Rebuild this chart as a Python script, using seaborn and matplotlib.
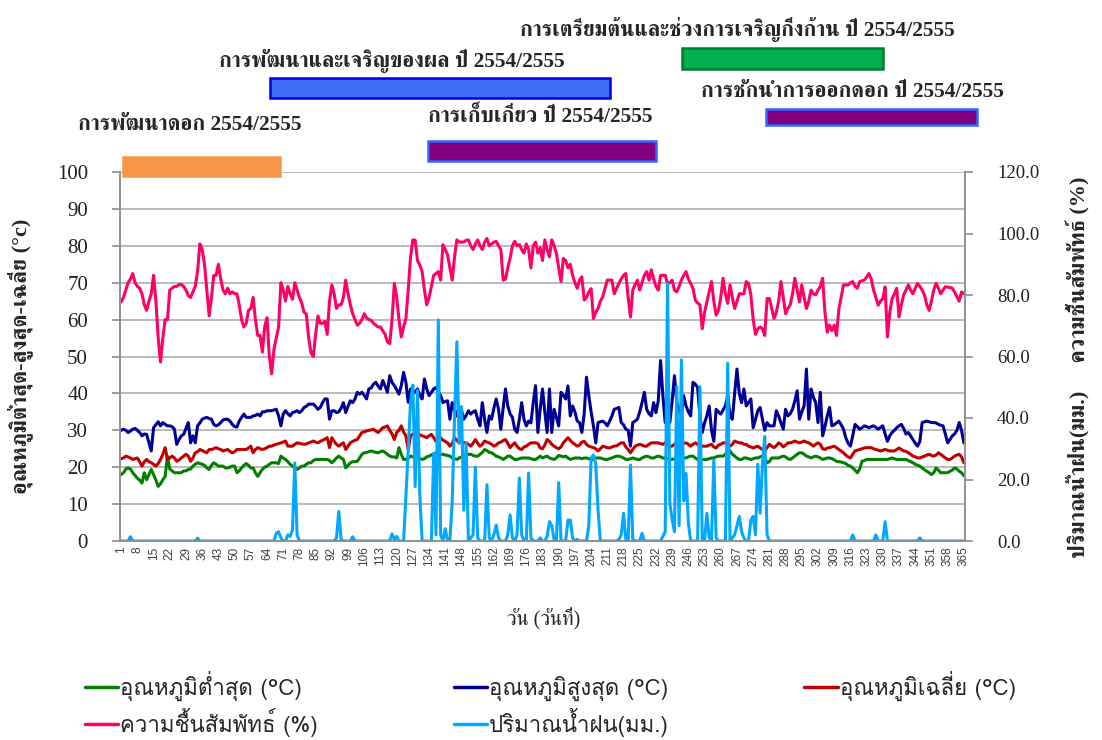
import matplotlib
matplotlib.use("Agg")
import numpy as np
import pandas as pd
import seaborn as sns
import matplotlib.pyplot as plt
from matplotlib import font_manager
from matplotlib.ft2font import FT2Font
from matplotlib.patches import Rectangle
from matplotlib.lines import Line2D


# daily values, one row = one week (day 1..365)
temp_min = [
    18, 18.5, 19.5, 19.8, 19.5, 18.5, 17.8,
    17, 16.5, 15.7, 18.5, 16.6, 18, 19.4,
    18, 16.5, 14.8, 15.5, 16.6, 17.5, 23,
    19.5, 19, 18.5, 18.5, 18.5, 18.5, 19,
    19, 19.4, 19.5, 20.3, 20.8, 21.2, 21,
    20.8, 20.5, 19.8, 19.4, 20.5, 21.2, 20.8,
    20.3, 20.3, 20.3, 19.8, 19.8, 20, 20.3,
    20.3, 18.5, 19, 19.8, 20.5, 21, 20.5,
    19.8, 19.8, 18.5, 17.5, 18.5, 19.4, 20,
    20.3, 20.8, 21.2, 21.2, 21.2, 21, 23,
    22.5, 22.1, 21.5, 20.8, 20.3, 19.8, 19.4,
    19.8, 20.3, 20.3, 20.8, 21.2, 21.2, 21.8,
    22.1, 22.1, 22.1, 22.1, 22.1, 22.1, 21.8,
    21.2, 21.8, 22.5, 23, 22.5, 22.1, 19.8,
    20.5, 21.2, 21.5, 21.5, 21.6, 22.5, 23.5,
    23.9, 24, 24.2, 24.4, 24.2, 24, 23.9,
    24.2, 24.4, 24, 23.5, 23, 22.8, 22.8,
    22.5, 25.3, 23.5, 22.1, 22.1, 22.5, 23,
    22.8, 22.5, 22.5, 22.3, 22.1, 22.3, 22.8,
    23, 23.3, 23.6, 23.9, 23.7, 23.5, 23.5,
    23.3, 23.2, 23, 22.5, 22.3, 22.1, 22.5,
    22.8, 23, 23.2, 23.5, 23.5, 23.2, 23,
    23, 23.5, 24, 24.8, 24.5, 24, 23.9,
    23.5, 23, 22.8, 22.5, 22.1, 22.5, 23,
    23, 22.5, 22.1, 22.1, 22.3, 22.5, 22.5,
    22.5, 22.5, 22.3, 22.1, 22.1, 22.5, 23,
    22.5, 22.8, 23, 22.5, 22.3, 22.1, 22.5,
    23.2, 23, 22.8, 23, 22.5, 22.1, 22.3,
    22.5, 22.5, 22.5, 22.3, 22.5, 22.5, 22.3,
    22.1, 22.1, 22.5, 22.5, 22.5, 22.3, 22.1,
    22.1, 22.3, 22.5, 22.8, 23, 23, 22.8,
    22.5, 22.1, 22.1, 22.3, 22.5, 22.3, 22.1,
    22.1, 22.5, 22.8, 23, 22.8, 22.5, 22.5,
    22.8, 23, 22.8, 22.5, 22.5, 22.3, 22.1,
    22.1, 22.3, 22.5, 22.5, 22.5, 22.5, 22.5,
    22.8, 23, 23, 22.5, 22.1, 22.1, 22.1,
    22.1, 22.1, 22.3, 22.5, 22.5, 22.8, 23,
    23, 23, 23.5, 24.2, 24.4, 23.5, 23,
    22.5, 22.1, 22.1, 22.5, 22.5, 22.3, 22.1,
    22.3, 22.5, 22.5, 22.8, 23, 22.5, 21.2,
    21.5, 22.5, 22.5, 22.5, 22.5, 22.8, 23,
    22.8, 22.3, 22.1, 22.5, 23, 23.5, 23.9,
    23.9, 23.5, 23, 22.8, 22.5, 22.8, 23,
    22.8, 22.5, 22.1, 22.3, 22.5, 22.5, 22.3,
    22, 21.6, 21.5, 21.4, 21.2, 21, 20.5,
    20.3, 19.8, 19.2, 18.5, 19.5, 21.6, 21.8,
    22.1, 22.1, 22.1, 22.1, 22.1, 22.1, 22.1,
    22.1, 22.1, 22.1, 22.3, 22.5, 22.3, 22.1,
    22.1, 22.1, 22.1, 22.1, 21.8, 21.5, 21.2,
    20.8, 20.5, 20.3, 19.8, 19.3, 18.9, 18.5,
    18, 18.5, 19.8, 19.2, 18.5, 18.5, 18.5,
    18.5, 18.9, 19.2, 19.8, 19.5, 18.9, 18.5,
    17.7,
]

temp_max = [
    30, 30.3, 30, 29.4, 29.8, 30.3, 30.5,
    30, 29.4, 28.5, 29, 28.9, 26.6, 24.4,
    30.7, 31.5, 32.3, 31.2, 32.1, 31.6, 31.2,
    31.2, 31, 30.3, 26.2, 27.5, 28.5, 28.9,
    30.5, 32.1, 26.6, 28.5, 26.6, 31.2, 32,
    33, 33.3, 33.5, 33.2, 33, 31.6, 31.2,
    31.5, 32.1, 32.8, 33, 33, 32.5, 31.6,
    31, 30.9, 32.5, 33.5, 34.4, 33.5, 33.5,
    33.5, 33.9, 34, 34.4, 33.9, 35, 35,
    35.3, 35.3, 35.3, 35.5, 35.7, 33.9, 31.2,
    34.4, 35.3, 34.5, 33.9, 34.8, 35, 35.3,
    34.8, 35.3, 36.2, 36.5, 37.1, 37.1, 37.1,
    36.5, 35.7, 36.2, 37.5, 38.5, 38.5, 33,
    35.3, 35.3, 34.8, 35, 36, 37.5, 34.8,
    36.5, 38, 37.5, 38.5, 40.3, 39.8, 40.3,
    39.5, 38.5, 41.2, 41.5, 42.5, 43, 42,
    41.2, 43.5, 42, 40.3, 44.8, 43, 42.1,
    41, 39.8, 42.1, 45.7, 43, 37.6, 41.2,
    40.8, 40.3, 41.2, 39.5, 38.5, 43.9, 41.2,
    39.4, 40.3, 41.2, 41.6, 40.5, 39.4, 37.5,
    37.8, 38, 33, 37.5, 35.5, 33.9, 36.2,
    35.5, 33, 34, 35.3, 34.4, 35, 35.3,
    33, 31.2, 37.5, 33, 29.4, 33.9, 33,
    36, 38.5, 35.7, 30.3, 36, 41.2, 36.6,
    34.5, 33.5, 30.3, 29.4, 33, 37.5, 33,
    31.2, 32.5, 32, 37.5, 42.1, 29.4, 35.7,
    41.2, 35, 29.4, 41.2, 29.4, 35.7, 33.5,
    31.2, 40.3, 39.5, 38.5, 42, 33.9, 36.6,
    35, 32.5, 32.1, 29.4, 34.4, 44.4, 39.4,
    35, 31.2, 26.6, 32.1, 32.3, 32.5, 32,
    31.2, 32.5, 33.9, 35.7, 35.9, 36.2, 32.1,
    31.5, 30.3, 30, 25.7, 32.1, 32.5, 33,
    35, 37.5, 40.3, 35.7, 34.5, 33.9, 37.5,
    34.8, 38, 48.9, 39.4, 32.1, 37.5, 32.1,
    38, 44.8, 37.5, 35.5, 33.9, 39.4, 36.6,
    35, 33.9, 43, 42.5, 41.6, 33.9, 29.4,
    32, 33.9, 36.6, 30, 27, 35.7, 35,
    34.4, 35.5, 36.6, 39.4, 33.9, 33, 40,
    46.6, 40, 37.5, 41.2, 36.6, 37.5, 38.5,
    30.7, 33, 35.3, 36.2, 33, 30, 32.1,
    31.2, 31.2, 31.2, 35.3, 33.9, 32, 30.3,
    35.7, 33.9, 34.5, 35.7, 38, 40.7, 33,
    35, 36.6, 46.6, 33, 41.2, 39, 37.5,
    32.1, 40.3, 28.5, 31, 33.9, 36.2, 31.2,
    31.5, 32, 32.5, 31.5, 30.3, 28, 26.5,
    25.7, 28.5, 31.6, 31, 30.3, 30.7, 31.2,
    31, 30.7, 31, 31.2, 30.8, 30.3, 30.8,
    31.2, 29, 27, 28.5, 29.4, 30, 30.7,
    31.2, 31.6, 30.5, 29, 29.4, 28.5, 27.5,
    26.5, 25.7, 27, 32.1, 32.3, 32.5, 32.3,
    32.1, 32.1, 32, 31.6, 31.4, 31.2, 29,
    26.6, 27.5, 28.5, 29, 30, 32.1, 30,
    26.6,
]

temp_avg = [
    22.3, 22.5, 23, 22.8, 22.5, 22.1, 22.3,
    22.5, 21.5, 20.3, 21.5, 22.1, 21.5, 21.2,
    20.8, 20.3, 21, 22.1, 23.5, 25.3, 22.1,
    22.5, 23, 22.5, 21.6, 22, 22.5, 23,
    23.5, 23, 21.6, 22.5, 23.9, 24.2, 24.8,
    24.5, 24.2, 23.9, 24.8, 24.8, 25, 25.3,
    25, 24.8, 24.4, 24.6, 24.8, 24.3, 23.9,
    24.2, 24.8, 24.8, 24.8, 24.8, 24.8, 25.2,
    25.7, 23.9, 24.8, 25.3, 25, 24.8, 25,
    25.3, 25.7, 25.7, 26, 26.2, 26.4, 26.6,
    26.8, 27.1, 25.7, 25.7, 25.7, 26.2, 26.6,
    26.5, 26.3, 26.2, 26.3, 26.6, 26.8, 27.1,
    26.8, 26.6, 27, 27.3, 27.6, 28, 25.3,
    28, 27, 26.2, 25.7, 26.2, 26.6, 24.8,
    25.7, 26.6, 27, 27.3, 27.5, 28.5, 29.4,
    29.6, 29.8, 30, 30.1, 30.3, 29.8, 29.4,
    30, 30.7, 30.9, 31.2, 30, 29, 27.5,
    29.4, 30, 31.2, 29.5, 28.5, 24.8, 28.5,
    29, 29.4, 29.2, 28.8, 28.5, 28.3, 28,
    28.5, 28.9, 28, 27, 27.5, 28, 27.3,
    27, 26.6, 25.7, 26.5, 28, 27.3, 26.6,
    27, 26.6, 26.6, 26.2, 25.7, 26.5, 27.5,
    26.5, 25.7, 26.2, 27.1, 26.8, 26.6, 26.2,
    25.7, 26, 26.6, 26.8, 27.2, 27.5, 26.5,
    25.3, 26, 26.6, 25.7, 25, 24.8, 25.5,
    25.7, 26.2, 26.6, 26.6, 26.6, 26.4, 25.2,
    25, 26, 27.5, 27, 26.2, 25.7, 25.3,
    25, 25.5, 26.6, 27.3, 28, 27.3, 26.6,
    26.2, 25.7, 26, 26.8, 27, 26.2, 25.7,
    25.5, 25.3, 25, 24.4, 25, 25.7, 25.5,
    25.3, 25.2, 25.5, 25.7, 25.8, 26.2, 26.6,
    26.6, 25.5, 24.8, 23.9, 24.8, 25.7, 26,
    26.2, 26, 25.7, 25.7, 26.2, 26.6, 26.6,
    26.6, 26.6, 26.4, 26.2, 26.6, 26.2, 25.7,
    25.7, 26.2, 26.6, 26.4, 26.2, 26.5, 26.6,
    26.2, 25.7, 26.2, 26.6, 26.2, 25.7, 25.7,
    25.7, 25.7, 26, 26.2, 25.5, 25.2, 26,
    26.2, 26.6, 26.6, 26.2, 25.7, 26.2, 27.1,
    26.8, 26.6, 26.6, 26.2, 26.2, 25.7, 25.5,
    25.2, 25.5, 25.7, 25.2, 24.8, 24.4, 25.3,
    26.2, 25.7, 25.3, 25.8, 26.6, 26.2, 25.5,
    26, 26.6, 26.6, 26.8, 27.1, 26.8, 26.6,
    26.8, 27.1, 26.8, 26.6, 26.2, 25.7, 26.2,
    26.6, 26.2, 25, 24.8, 25.2, 25.3, 25.5,
    25.7, 25.3, 24.8, 24.4, 23.9, 23.3, 22.8,
    22.5, 23.5, 24.4, 24.6, 24.8, 25, 25.2,
    25.3, 25.3, 25.3, 25, 24.8, 24.6, 24.4,
    24.6, 24.8, 24.6, 24.4, 24.4, 24.4, 24.8,
    25.2, 24.8, 24.4, 24.3, 23.9, 23.5, 23,
    22.8, 22.5, 22.5, 22.8, 23, 23.3, 23.5,
    23.2, 23, 23.3, 23.9, 23.5, 23, 22.5,
    22.1, 22.1, 22.5, 23, 23.3, 23.5, 22.8,
    21.2,
]

humidity = [
    64.8, 66, 68, 70, 71, 72.5, 70,
    69, 68.5, 67, 64, 62.5, 65, 67,
    72, 65, 55, 48.5, 55, 60, 60,
    68, 68.5, 69, 69, 69.5, 69.5, 69,
    68, 66.5, 66, 67.5, 69, 73, 80.5,
    79, 75, 68, 61, 66, 72, 72,
    75, 71, 68, 67, 68.5, 67, 67.5,
    67, 67, 64, 60, 58, 59, 62.5,
    63, 66, 60, 55.7, 55.7, 51.2, 58,
    60.5, 50, 45.3, 52, 55, 58, 70,
    68, 65, 69, 67, 65.5, 70, 68,
    66, 64.5, 62, 61.5, 55, 51, 50,
    56, 61, 59, 59, 59.5, 56, 65,
    69.4, 67, 63, 64, 64, 66, 70.7,
    67, 64, 61.6, 60, 58.5, 59, 60,
    61.6, 60.5, 60, 59.8, 59, 58.5, 58,
    58, 57, 56, 54, 53.5, 60, 69.8,
    66.2, 60, 55.3, 58, 60.3, 68, 77,
    81.6, 81.5, 76, 74.8, 73, 68, 64,
    66, 69, 72, 72.5, 73, 70.7, 80.3,
    79, 77.5, 74, 70.7, 77, 81.6, 81,
    81, 81, 81.5, 81.6, 80, 79, 80.5,
    81.6, 80, 79, 81, 82, 80, 80.5,
    81, 81.2, 80, 79, 70.7, 71, 74,
    76.6, 80, 81.2, 80, 80.3, 79, 78,
    80.5, 79, 74, 80, 81, 78, 79.5,
    76, 81.6, 79, 77, 81.6, 80, 78,
    74, 70.3, 76.6, 76, 74, 75, 72,
    70, 68.5, 70.7, 71.6, 65.3, 66, 67.5,
    68.4, 60.3, 62, 63, 65, 66.2, 68.5,
    70.7, 70.7, 70.7, 67, 68.5, 69.8, 71,
    72, 72.5, 66, 60.7, 68, 69.5, 70.7,
    68, 70, 72, 73, 70.7, 73.5, 71,
    69, 68, 72, 72, 72, 69.8, 70,
    70.7, 68, 67.5, 69, 70.7, 72, 73,
    71, 69.8, 68.4, 65.3, 64.5, 64, 57.5,
    62, 64.8, 67.5, 70.3, 65, 61.2, 62.5,
    66, 71.2, 67, 64.4, 69.4, 66, 63,
    65, 67, 67, 67, 70.3, 69.8, 66.7,
    60, 56, 57.5, 58, 57.5, 55.7, 65.7,
    65.7, 63, 60.3, 62, 65, 70.3, 66,
    61.6, 63, 64, 67, 71.2, 68, 64.8,
    69.4, 66, 63, 65, 68, 67, 66.7,
    68, 69, 71.2, 62, 56.6, 58.5, 57,
    58.5, 55.7, 62.8, 66, 69.4, 69.4, 69.4,
    70, 70.3, 69, 68.5, 70.3, 70.5, 70.7,
    71.5, 72.5, 71, 68, 66, 63.9, 65,
    65.7, 68.9, 55.3, 62, 65.7, 67, 68.5,
    60.7, 64, 66.7, 68, 69.4, 68, 67,
    68.5, 69.8, 69, 68, 66.7, 64, 62.5,
    65, 68, 69.8, 68.5, 67, 68, 68.9,
    68.8, 68.7, 68.5, 67.5, 66.2, 65, 67.5,
    67,
]

rainfall = [
    0, 0, 0, 0, 1.4, 0, 0,
    0, 0, 0, 0, 0, 0, 0,
    0, 0, 0, 0, 0, 0, 0,
    0, 0, 0, 0, 0, 0, 0,
    0, 0, 0, 0, 0, 0.9, 0,
    0, 0, 0, 0, 0, 0, 0,
    0, 0, 0, 0, 0, 0, 0,
    0, 0, 0, 0, 0, 0, 0,
    0, 0, 0, 0, 0, 0, 0,
    0, 0, 0, 0, 2.5, 3, 1,
    0, 0, 2, 1.5, 3.6, 25.4, 2,
    0, 0, 0, 0, 0, 0, 0,
    0, 0, 0, 0, 0, 0, 0,
    0, 0, 1, 9.6, 0.5, 0, 0,
    0, 0, 1.4, 0, 0, 0, 0,
    0, 0, 0, 0, 0, 0, 0,
    0, 0, 0, 0, 0, 2.3, 0.5,
    1.5, 0, 0, 0, 14.5, 30, 45,
    50.7, 17.7, 49, 15, 0, 0, 0,
    0, 0, 28.5, 2, 71.9, 2, 0,
    4, 0, 0, 13, 40, 64.8, 31.8,
    43.7, 10, 31.8, 0, 1, 2, 24,
    1, 0, 0, 0, 18.3, 1, 0,
    2, 5.2, 1, 0, 0, 0, 2,
    8.5, 1, 0, 2, 20.5, 2, 0,
    0, 22.1, 1, 0, 0, 0, 1,
    0, 0, 1.5, 6.3, 5, 0.5, 0,
    19, 0, 0, 0, 6.8, 6.8, 1,
    0, 0.5, 0, 0, 0, 0, 5,
    27, 28, 25, 10, 0, 0, 0,
    0, 0, 0, 0, 0, 0.5, 2,
    9, 0.5, 0, 24.7, 0.5, 0, 0,
    0, 2.5, 0, 0, 0, 0, 0,
    0, 0, 0, 1.5, 3, 83.8, 12.2,
    7, 3, 50.2, 5, 58.9, 13, 22,
    6, 0, 0, 0, 0, 50.2, 0,
    0, 9, 1, 0, 26.3, 1, 0,
    0, 0, 0, 57.8, 0, 1, 2,
    5, 8, 3, 1, 0, 0, 6.8,
    8, 2, 25, 9, 25, 34, 2,
    0, 0, 0, 0, 0, 0, 0,
    0, 0, 0, 0, 0, 0, 0,
    0, 0, 0, 0, 0, 0, 0,
    0, 0, 0, 0, 0, 0, 0,
    0, 0, 0, 0, 0, 0, 0,
    0, 2, 0, 0, 0, 0, 0,
    0, 0, 0, 0, 2, 0, 0,
    0, 6.3, 0, 0, 0, 0, 0,
    0, 0, 0, 0, 0, 0, 0,
    0, 0, 1, 0, 0, 0, 0,
    0, 0, 0, 0, 0, 0, 0,
    0, 0, 0, 0, 0, 0, 0,
    0,
]

days = list(range(1, 366))
tick_days = list(range(1, 366, 7))

series_names = [
    "อุณหภูมิต่ำสุด (°C)",
    "อุณหภูมิสูงสุด (°C)",
    "อุณหภูมิเฉลี่ย (°C)",
    "ความชื้นสัมพัทธ์ (%)",
    "ปริมาณน้ำฝน(มม.)",
]
series_colors = ["#008000", "#000096", "#C00000", "#FF0066", "#00A8FF"]

# growth stage bars above the chart: (label, x0, x1, y0, y1 in pixels, fill, edge, text center)
stages = [
    ("การพัฒนาดอก 2554/2555", 123, 280, 157, 176, "#F79646", "#F79646", (190, 125)),
    ("การเก็บเกี่ยว ปี 2554/2555", 428, 656, 141, 161, "#800080", "#3366FF", (540, 117)),
    ("การพัฒนาและเจริญของผล ปี 2554/2555", 270, 610, 78, 98, "#3F6CF7", "#0000DD", (392, 61)),
    ("การเตรียมต้นและช่วงการเจริญกิ่งก้าน ปี 2554/2555", 682, 883, 48, 69, "#00B050", "#00802A", (737, 29)),
    ("การชักนำการออกดอก ปี 2554/2555", 766, 977, 109, 125, "#800080", "#3366FF", (852, 92)),
]


def thai_fonts():
    found = []
    for f in font_manager.fontManager.ttflist:
        try:
            cmap = FT2Font(f.fname).get_charmap()
        except Exception:
            continue
        if 0x0E01 in cmap and f.name not in found:
            found.append(f.name)
    return found


W, H = 1102, 740


def fig_xy(x, y):
    return x / W, 1 - y / H


sns.set_theme(style="white")
thai = thai_fonts()
pref_sans = [f for f in ["Loma", "Anuphan"] if f in thai] + thai
pref_serif = [f for f in ["FreeSerif"] if f in thai] + thai
sans = pref_sans + ['DejaVu Sans']
serif = ['Liberation Serif'] + pref_serif + ['DejaVu Serif']
plt.rcParams['font.family'] = sans

df = pd.DataFrame({"day": days, "tmin": temp_min, "tmax": temp_max,
                   "tavg": temp_avg, "rh": humidity, "rain": rainfall})

fig = plt.figure(figsize=(W / 100, H / 100), dpi=100)
ax = fig.add_axes([120 / W, 1 - 541 / H, 845 / W, 369 / H])
ax2 = ax.twinx()

lw = 2.2
sns.lineplot(data=df, x="day", y="tmin", ax=ax, color=series_colors[0], lw=lw, estimator=None)
sns.lineplot(data=df, x="day", y="tmax", ax=ax, color=series_colors[1], lw=lw, estimator=None)
sns.lineplot(data=df, x="day", y="tavg", ax=ax, color=series_colors[2], lw=lw, estimator=None)
sns.lineplot(data=df, x="day", y="rh", ax=ax, color=series_colors[3], lw=lw, estimator=None)
sns.lineplot(data=df, x="day", y="rain", ax=ax2, color=series_colors[4], lw=lw, estimator=None)

ax.set_xlim(0.5, 365.5)
ax.set_ylim(0, 100)
ax2.set_ylim(0, 120)
ax.set_yticks(range(0, 101, 10))
ax2.set_yticks(range(0, 121, 20))
ax2.set_yticklabels([f"{v:.1f}" for v in range(0, 121, 20)])
ax.set_xticks(tick_days)
ax.set_xticklabels([str(d) for d in tick_days], rotation=90,
                   family="Liberation Sans", fontsize=8.5, color="#404040")

for t in ax.get_yticklabels():
    t.set_family(serif)
    t.set_fontsize(15)
    t.set_color("#202020")
for t in ax2.get_yticklabels():
    t.set_family(serif)
    t.set_fontsize(13.5)
    t.set_color("#202020")

ax.yaxis.grid(True, color="#B4B4B4", lw=1.3)
ax.set_axisbelow(True)
ax.tick_params(axis="y", which="major", direction="out", length=6, color="#909090", pad=17)
ax2.tick_params(axis="y", which="major", direction="out", length=6, color="#909090", pad=17)
ax.tick_params(axis="x", length=0, pad=4)
for a in (ax, ax2):
    a.spines["top"].set_visible(False)
    for s in ["left", "right", "bottom"]:
        a.spines[s].set_color("#909090")
        a.spines[s].set_linewidth(1.2)

ax.set_xlabel("วัน (วันที่)", fontsize=14.5, family=serif)
ax.xaxis.set_label_coords((544 - 120) / 845, (541 - 607) / 369)
ax.set_ylabel("อุณหภูมิต่ำสุด-สูงสุด-เฉลี่ย (°c)", fontsize=16, fontweight="bold", family=serif)
ax.yaxis.set_label_coords((33 - 120) / 845, 0.5)
ax2.set_ylabel("ปริมาณน้ำฝน(มม.)     ความชื้นสัมพัทธ์ (%)", fontsize=16,
               fontweight="bold", rotation=90, family=serif)
ax2.yaxis.set_label_coords((1066 - 120) / 845, 0.47)

# stage bars and labels
for label, x0, x1, y0, y1, fill, edge, (tx, ty) in stages:
    fx, fy = fig_xy(x0, y1)
    rect = Rectangle((fx, fy), (x1 - x0) / W, (y1 - y0) / H, transform=fig.transFigure,
                     facecolor=fill, edgecolor=edge, lw=1.8, clip_on=False)
    fig.add_artist(rect)
    fig.text(*fig_xy(tx, ty), label, ha="center", va="center", fontsize=15.5,
             fontweight="bold", family=serif)

# legend: min, max, avg on the first row, humidity and rain on the second
handles = [Line2D([], [], color=c, lw=2.5) for c in series_colors]
order = [0, 3, 1, 4, 2]
fig.legend([handles[i] for i in order], [series_names[i] for i in order],
           loc="upper left", bbox_to_anchor=fig_xy(76, 662), ncol=3, frameon=False,
           fontsize=16, handlelength=1.5, handletextpad=0.1, columnspacing=6.1,
           labelspacing=0.3, borderaxespad=0)

fig.savefig("out.png", dpi=100)
